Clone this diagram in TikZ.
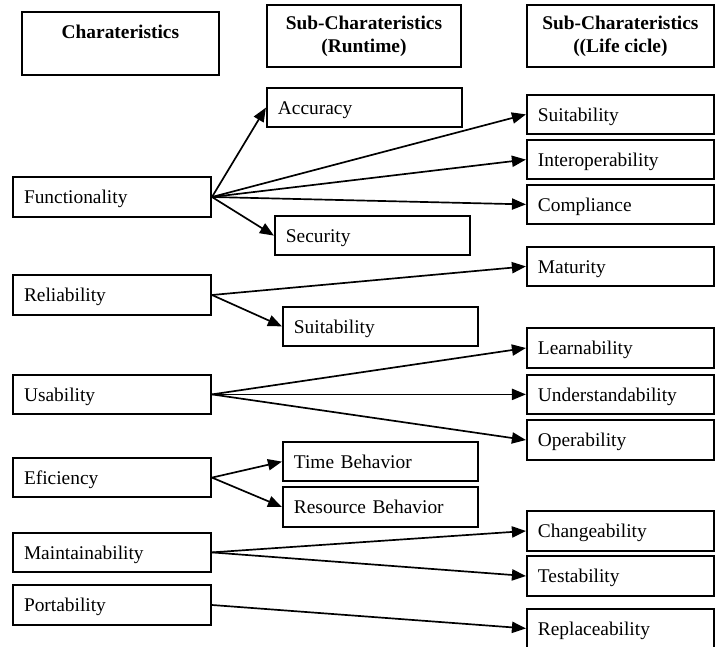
\documentclass[tikz,border=0pt]{standalone}
\usepackage{fontspec}
\setmainfont{Liberation Serif}
\usetikzlibrary{arrows.meta}

\begin{document}
\begin{tikzpicture}[
    charbox/.style={draw, line width=1.4pt, minimum height=0.98cm, inner xsep=0.275cm, inner ysep=0pt, text width=#1, text height=0.34cm, text depth=0pt, align=left, font=\fontsize{13.8}{16.4}\selectfont},
    headbox/.style={draw, line width=1.4pt, minimum width=#1, minimum height=1.55cm, align=center, font=\fontsize{13.8}{16.4}\selectfont\bfseries},
    link/.style={-{Triangle[length=3.5mm, width=2.8mm]}, line width=1.2pt}
]
    \useasboundingbox (0,0) rectangle (17.9,-16.175);
    \clip (0,0) rectangle (17.9,-16.175);

    % Charateristics
    \node[headbox=4.93cm, minimum height=1.575cm] (chr) at (3.01,-1.09) {Charateristics\\\mbox{}};
    \node[charbox=4.4cm] (func) at (2.8,-4.925) {Functionality};
    \node[charbox=4.4cm] (rel) at (2.8,-7.375) {Reliability};
    \node[charbox=4.4cm] (usa) at (2.8,-9.86) {Usability};
    \node[charbox=4.4cm] (eff) at (2.8,-11.94) {Eficiency};
    \node[charbox=4.4cm] (mnt) at (2.8,-13.81) {Maintainability};
    \node[charbox=4.4cm] (port) at (2.8,-15.125) {Portability};

    % Runtime
    \node[headbox=4.85cm] (run) at (9.1,-0.9) {Sub-Charateristics\\(Runtime)};
    \node[charbox=4.325cm] (acc) at (9.11,-2.69) {Accuracy};
    \node[charbox=4.325cm] (sec) at (9.31,-5.89) {Security};
    \node[charbox=4.325cm] (rsuit) at (9.51,-8.16) {Suitability};
    \node[charbox=4.325cm] (time) at (9.51,-11.54) {Time Behavior};
    \node[charbox=4.325cm] (res) at (9.51,-12.675) {Resource Behavior};

    % Life cicle
    \node[headbox=4.675cm] (life) at (15.51,-0.9) {Sub-Charateristics\\((Life cicle)};
    \node[charbox=4.125cm] (lsuit) at (15.51,-2.86) {Suitability};
    \node[charbox=4.125cm] (inter) at (15.51,-3.99) {Interoperability};
    \node[charbox=4.125cm] (comp) at (15.51,-5.11) {Compliance};
    \node[charbox=4.125cm] (mat) at (15.51,-6.66) {Maturity};
    \node[charbox=4.125cm] (learn) at (15.51,-8.7) {Learnability};
    \node[charbox=4.125cm] (under) at (15.51,-9.86) {Understandability};
    \node[charbox=4.125cm] (oper) at (15.51,-11.0) {Operability};
    \node[charbox=4.125cm] (chg) at (15.51,-13.275) {Changeability};
    \node[charbox=4.125cm] (test) at (15.51,-14.4) {Testability};
    \node[charbox=4.125cm] (repl) at (15.51,-15.71) {Replaceability};

    % Connections
    \draw[link] (func.east) -- (acc.west);
    \draw[link] (func.east) -- (sec.west);
    \draw[link] (func.east) -- (lsuit.west);
    \draw[link] (func.east) -- (inter.west);
    \draw[link] (func.east) -- (comp.west);
    \draw[link] (rel.east) -- (mat.west);
    \draw[link] (rel.east) -- (rsuit.west);
    \draw[link] (usa.east) -- (learn.west);
    \draw[link] (usa.east) -- (under.west);
    \draw[link] (usa.east) -- (oper.west);
    \draw[link] (eff.east) -- (time.west);
    \draw[link] (eff.east) -- (res.west);
    \draw[link] (mnt.east) -- (chg.west);
    \draw[link] (mnt.east) -- (test.west);
    \draw[link] (port.east) -- (repl.west);
\end{tikzpicture}
\end{document}
